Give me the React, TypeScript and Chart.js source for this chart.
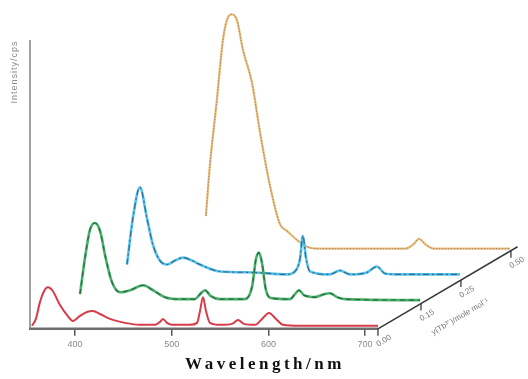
import React, { useEffect, useRef } from 'react';
import { Chart, registerables } from 'chart.js';

Chart.register(...registerables);

// ---- axis ticks / labels ----
const xTickValues = [400, 500, 600, 700];
const depthLabels = ['0.00', '0.15', '0.25', '0.50'];
const xTitle = 'Wavelength/nm';
const yTitle = 'Intensity/cps';
const depthTitle = 'y(Tb³⁺)/mole mol⁻¹';

// offset of each spectrum along the depth axis (wavelength units, intensity units)
const depthShiftX = [0, 44.5, 85.8, 137.5];
const depthShiftY = [0, 27, 53, 79];

// ---- spectra (wavelength / intensity) ----
const redWl = [355.5, 359.6, 363.8, 368, 372.1, 377.2, 384.5, 391.7, 397.9, 405.2, 412.4, 418.6, 425.9, 436.2, 451.7, 467.2, 482.7, 487.9, 491, 495.1, 500.3, 518.9, 526.2, 529.3, 532.4, 535.5, 539.6, 550, 562.4, 568.6, 574.8, 586.1, 593.4, 600.6, 607.9, 615.1, 632.7, 713.3];
const redI = [3, 10, 27, 38, 42, 38, 24, 14, 8, 13, 17, 18, 15, 10, 6, 4, 4, 7, 10, 6, 4, 4, 6, 18, 32, 18, 6, 4, 5, 9, 5, 4, 10, 16, 10, 4, 3, 3];

const greenWl = [360.7, 365.9, 371, 376.2, 381.4, 387.6, 393.8, 402.1, 412.4, 425.9, 436.2, 448.6, 464.1, 479.6, 484.8, 489.9, 496.1, 505.4, 531.2, 538.5, 542.6, 545.7, 548.8, 553, 559.2, 577.8, 583, 587.1, 592.3, 603.7, 613, 619.2, 626.4, 634.7, 712.3];
const greenI = [8, 45, 73, 80, 72, 43, 20, 10, 12, 17, 12, 5, 3, 3, 8, 12, 6, 3, 3, 15, 43, 50, 40, 12, 4, 3, 8, 12, 7, 5, 8, 9, 5, 3, 2];

const blueWl = [368, 374.1, 381.4, 388.6, 394.8, 402, 409.3, 417.6, 425.9, 435.2, 443.4, 464.1, 498.2, 533.4, 541.7, 546.8, 549.9, 553, 557.2, 577.8, 588.2, 598.5, 616.1, 626.4, 634.7, 650.2, 712.3];
const blueI = [12, 59, 90, 59, 32, 16, 12, 16, 19, 16, 12, 5, 4, 2, 5, 17, 41, 19, 5, 2, 6, 2, 4, 10, 3, 2, 2];

const orangeWl = [397.9, 402, 409.3, 415.5, 420.7, 424.8, 430, 436.2, 445.5, 453.8, 464.1, 474.4, 481.7, 493.1, 502.4, 515.8, 603.7, 612, 618.2, 625.4, 633.7, 712.3];
const orangeI = [35, 86, 153, 213, 236, 239, 233, 203, 170, 120, 66, 27, 20, 10, 4, 2, 2, 6, 12, 6, 2, 2];

const X_MIN = 353.5;
const X_MAX = 839.5;

function pts(wl: number[], iv: number[], sx: number, sy: number) {
  return wl.map((w, k) => ({ x: w + sx, y: iv[k] + sy }));
}

const decorPlugin = {
  id: 'decor',
  beforeDraw(chart: any) {
    const sx: any = chart.scales.x;
    if (sx && !sx.__spaced) {
      const orig = sx.drawTitle.bind(sx);
      sx.drawTitle = function () {
        const c: any = chart.ctx;
        c.save();
        c.letterSpacing = '3.5px';
        orig();
        c.restore();
      };
      sx.__spaced = true;
    }
  },
  beforeDatasetsDraw(chart: any) {
    const ctx: CanvasRenderingContext2D = chart.ctx;
    const xs = chart.scales.x;
    const ys = chart.scales.y;
    const area = chart.chartArea;
    const redEnd = redWl[redWl.length - 1];
    const x0 = xs.getPixelForValue(X_MIN);
    const y0 = ys.getPixelForValue(0);
    ctx.save();
    // y axis
    ctx.strokeStyle = '#a0a0a0';
    ctx.lineWidth = 2;
    ctx.beginPath();
    ctx.moveTo(x0, y0 + 1);
    ctx.lineTo(x0, area.top);
    ctx.stroke();
    // x axis
    ctx.strokeStyle = '#6e6e6e';
    ctx.lineWidth = 2.5;
    ctx.beginPath();
    ctx.moveTo(x0 - 1, y0);
    ctx.lineTo(xs.getPixelForValue(redEnd), y0);
    ctx.stroke();
    // depth axis
    const last = depthShiftX.length - 1;
    const p0x = xs.getPixelForValue(redEnd);
    const p0y = y0;
    const p3x = xs.getPixelForValue(redEnd + depthShiftX[last]);
    const p3y = ys.getPixelForValue(depthShiftY[last]);
    const ang = Math.atan2(p3y - p0y, p3x - p0x);
    ctx.strokeStyle = '#3a3a3a';
    ctx.lineWidth = 1.5;
    ctx.beginPath();
    ctx.moveTo(p0x, p0y);
    ctx.lineTo(p0x + (p3x - p0x) * 1.05, p0y + (p3y - p0y) * 1.05);
    ctx.stroke();
    ctx.font = '8px "Liberation Sans", Arial, sans-serif';
    ctx.fillStyle = '#7a7a7a';
    ctx.textAlign = 'center';
    ctx.textBaseline = 'middle';
    depthShiftX.forEach((dx, i) => {
      const tx = xs.getPixelForValue(redEnd + dx);
      const t = (tx - p0x) / (p3x - p0x);
      const ty = p0y + t * (p3y - p0y);
      ctx.strokeStyle = '#3a3a3a';
      ctx.lineWidth = 1.3;
      ctx.beginPath();
      ctx.moveTo(tx, ty);
      ctx.lineTo(tx, ty + 7);
      ctx.stroke();
      ctx.save();
      ctx.translate(tx + 6, ty + 12);
      ctx.rotate(ang);
      ctx.fillText(depthLabels[i], 0, 0);
      ctx.restore();
    });
    // depth title
    const tt = 0.55;
    const cx = p0x + tt * (p3x - p0x) + 9;
    const cy = p0y + tt * (p3y - p0y) + 31;
    ctx.save();
    ctx.translate(cx, cy);
    ctx.rotate(ang);
    ctx.fillText(depthTitle, 0, 0);
    ctx.restore();
    // y title
    ctx.save();
    ctx.translate(15, 72);
    ctx.rotate(-Math.PI / 2);
    (ctx as any).letterSpacing = '1px';
    ctx.font = '9px "Liberation Sans", Arial, sans-serif';
    ctx.fillStyle = '#8a8a8a';
    ctx.fillText(yTitle, 0, 0);
    ctx.restore();
    ctx.restore();
  },
};

export default function App() {
  const ref = useRef<HTMLCanvasElement>(null);
  useEffect(() => {
    const canvas = ref.current!;
    const common = {
      pointRadius: 0,
      pointHoverRadius: 0,
      fill: false,
      clip: false as any,
      tension: 0.4,
      cubicInterpolationMode: 'monotone' as const,
    };
    const red = pts(redWl, redI, depthShiftX[0], depthShiftY[0]);
    const green = pts(greenWl, greenI, depthShiftX[1], depthShiftY[1]);
    const blue = pts(blueWl, blueI, depthShiftX[2], depthShiftY[2]);
    const orange = pts(orangeWl, orangeI, depthShiftX[3], depthShiftY[3]);
    const chart = new Chart(canvas, {
      type: 'line',
      data: {
        datasets: [
          { ...common, data: red, borderColor: 'rgb(214,60,72)', borderWidth: 2, order: 1 },
          { ...common, data: green, borderColor: 'rgba(25,55,35,0.6)', borderWidth: 1.1, borderDash: [5, 4], order: 2 },
          { ...common, data: green, borderColor: 'rgb(70,175,105)', borderWidth: 2.6, order: 3 },
          { ...common, data: blue, borderColor: 'rgba(25,45,65,0.6)', borderWidth: 1.1, borderDash: [6, 3, 2, 3], order: 4 },
          { ...common, data: blue, borderColor: 'rgb(85,192,235)', borderWidth: 2.6, order: 5 },
          { ...common, data: orange, borderColor: 'rgba(120,110,100,0.7)', borderWidth: 1, borderDash: [1.5, 1.5], order: 6 },
          { ...common, data: orange, borderColor: 'rgb(240,192,125)', borderWidth: 2.3, order: 7 },
        ] as any,
      },
      options: {
        responsive: false,
        animation: false,
        events: [],
        layout: { padding: { left: 30, top: 40, right: 28, bottom: 2 } },
        plugins: { legend: { display: false }, tooltip: { enabled: false } },
        scales: {
          x: {
            type: 'linear',
            min: X_MIN,
            max: X_MAX,
            afterBuildTicks: (axis: any) => {
              axis.ticks = xTickValues.map((v) => ({ value: v }));
            },
            border: { display: false },
            grid: { display: true, drawOnChartArea: false, drawTicks: true, tickLength: 6, color: '#555', lineWidth: 1.5 },
            ticks: {
              padding: 3,
              color: '#8a8a8a',
              font: { family: '"Liberation Sans", Arial, sans-serif', size: 9 },
              maxRotation: 0,
              autoSkip: false,
              callback: (v: any) => String(v),
            },
            title: {
              display: true,
              text: xTitle,
              color: '#111',
              font: { family: '"Liberation Serif", "Times New Roman", serif', size: 17, weight: 'bold' },
              padding: { top: 2, bottom: 2 },
            },
          },
          y: { type: 'linear', display: false, min: -1, max: 292 },
        },
      },
      plugins: [decorPlugin],
    });
    return () => chart.destroy();
  }, []);
  return (
    <div style={{ position: 'absolute', left: 0, top: 0, width: 528, height: 379, background: '#fff' }}>
      <canvas ref={ref} width={528} height={379} style={{ display: 'block', width: 528, height: 379 }} />
    </div>
  );
}
